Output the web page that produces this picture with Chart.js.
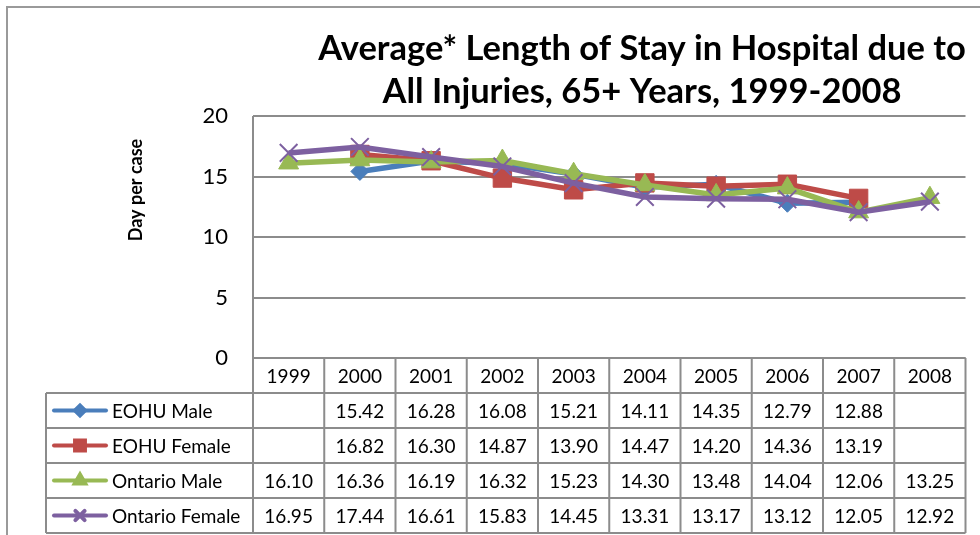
<!DOCTYPE html>
<html>
<head>
<meta charset="utf-8">
<title>Average Length of Stay in Hospital due to All Injuries, 65+ Years</title>
<script src="https://cdn.jsdelivr.net/npm/chart.js@4.4.1/dist/chart.umd.min.js"></script>
<style>
  html, body { margin: 0; padding: 0; background: #fff; }
  #lengthOfStay { display: block; }
</style>
</head>
<body>
<canvas id="lengthOfStay" width="980" height="535"></canvas>
<script>
// Years shown along the bottom of the data table
var years = ['1999', '2000', '2001', '2002', '2003', '2004', '2005', '2006', '2007', '2008'];

// Average days per case (null = no value reported)
var eohuMale = [null, 15.42, 16.28, 16.08, 15.21, 14.11, 14.35, 12.79, 12.88, null];
var eohuFemale = [null, 16.82, 16.30, 14.87, 13.90, 14.47, 14.20, 14.36, 13.19, null];
var ontarioMale = [16.10, 16.36, 16.19, 16.32, 15.23, 14.30, 13.48, 14.04, 12.06, 13.25];
var ontarioFemale = [16.95, 17.44, 16.61, 15.83, 14.45, 13.31, 13.17, 13.12, 12.05, 12.92];

var seriesNames = ['EOHU Male', 'EOHU Female', 'Ontario Male', 'Ontario Female'];
var seriesColors = ['#4A7EBB', '#BE4B48', '#98B954', '#7D60A0'];
var seriesMarkers = ['rectRot', 'rect', 'triangle', 'crossRot'];
var markerSizes = [9, 13, 11.5, 12.5];

var titleLines = ['Average* Length of Stay in Hospital due to', 'All Injuries, 65+ Years, 1999-2008'];
var yTitle = 'Day per case';

var FONT = 'Lato, "Liberation Sans", sans-serif';
var GRID = '#8c8c8c';

var allSeries = [eohuMale, eohuFemale, ontarioMale, ontarioFemale];

var datasets = allSeries.map(function(values, i) {
    return {
        label: seriesNames[i],
        data: values,
        borderColor: seriesColors[i],
        backgroundColor: seriesColors[i],
        borderWidth: 5.5,
        pointStyle: seriesMarkers[i],
        pointRadius: markerSizes[i],
        pointBorderColor: seriesColors[i],
        pointBorderWidth: seriesMarkers[i] === 'crossRot' ? 2 : 1,
        spanGaps: false,
        tension: 0,
        // first series at the bottom, last one on top
        order: allSeries.length - i
    };
});

// Frame, title, axis title and the data table under the plot
var tableDecor = {
    id: 'tableDecor',
    beforeDraw: function(chart) {
        var ctx = chart.ctx;
        ctx.save();
        ctx.fillStyle = '#fff';
        ctx.fillRect(0, 0, chart.width, chart.height);
        ctx.strokeStyle = '#9a9a9a';
        ctx.lineWidth = 2;
        ctx.beginPath();
        ctx.moveTo(7, chart.height + 5);
        ctx.lineTo(7, 7);
        ctx.lineTo(chart.width + 5, 7);
        ctx.stroke();
        ctx.restore();
    },
    afterDraw: function(chart) {
        var ctx = chart.ctx;
        var area = chart.chartArea;
        var x = chart.scales.x;
        var colW = x.getPixelForValue(1) - x.getPixelForValue(0);
        var rowH = 35;
        var top = area.bottom;
        var legendLeft = 46;

        ctx.save();

        // title
        ctx.fillStyle = '#000';
        ctx.font = 'bold 34.5px ' + FONT;
        ctx.textAlign = 'center';
        ctx.textBaseline = 'alphabetic';
        ctx.fillText(titleLines[0], 642, 60);
        ctx.fillText(titleLines[1], 642, 103);

        // y axis title
        ctx.save();
        ctx.translate(142, 190);
        ctx.rotate(-Math.PI / 2);
        ctx.font = 'bold 18px ' + FONT;
        ctx.fillText(yTitle, 0, 0);
        ctx.restore();

        // plot left edge
        ctx.strokeStyle = GRID;
        ctx.lineWidth = 2;
        ctx.beginPath();
        ctx.moveTo(area.left, area.top);
        ctx.lineTo(area.left, top);
        ctx.stroke();

        // table grid
        var right = area.right;
        var bottom = top + rowH * (allSeries.length + 1);
        ctx.beginPath();
        for (var r = 0; r <= allSeries.length + 1; r++) {
            var yy = top + r * rowH;
            ctx.moveTo(r === 0 ? area.left : legendLeft, yy);
            ctx.lineTo(right, yy);
        }
        for (var c = 0; c <= years.length; c++) {
            var xx = area.left + c * colW;
            ctx.moveTo(xx, top);
            ctx.lineTo(xx, bottom);
        }
        ctx.moveTo(legendLeft, top + rowH);
        ctx.lineTo(legendLeft, bottom);
        ctx.stroke();

        // header and values
        ctx.font = '19px ' + FONT;
        ctx.textAlign = 'center';
        ctx.textBaseline = 'middle';
        ctx.fillStyle = '#000';
        years.forEach(function(y, i) {
            ctx.fillText(y, x.getPixelForValue(i), top + rowH / 2 + 1);
        });
        allSeries.forEach(function(values, s) {
            var cy = top + rowH * (s + 1) + rowH / 2 + 1;
            values.forEach(function(v, i) {
                if (v !== null) ctx.fillText(v.toFixed(2), x.getPixelForValue(i), cy);
            });
        });

        // legend keys
        allSeries.forEach(function(values, s) {
            var cy = top + rowH * (s + 1) + rowH / 2;
            ctx.strokeStyle = seriesColors[s];
            ctx.lineWidth = 4;
            ctx.lineCap = 'round';
            ctx.beginPath();
            ctx.moveTo(54, cy);
            ctx.lineTo(106, cy);
            ctx.stroke();
            Chart.helpers.drawPoint(ctx, {
                pointStyle: seriesMarkers[s],
                radius: [5, 7, 6, 6.5][s],
                borderWidth: seriesMarkers[s] === 'crossRot' ? 2 : 1
            }, 80, cy);
            ctx.fillStyle = seriesColors[s];
            ctx.fill();
            ctx.fillStyle = '#000';
            ctx.textAlign = 'left';
            ctx.fillText(seriesNames[s], 112, cy + 1);
        });

        ctx.restore();
    }
};

var ctx = document.getElementById('lengthOfStay').getContext('2d');
var chart = new Chart(ctx, {
    type: 'line',
    data: {
        labels: years,
        datasets: datasets
    },
    plugins: [tableDecor],
    options: {
        responsive: false,
        animation: false,
        layout: {
            padding: { left: 0, top: 116, right: 5, bottom: 177 }
        },
        plugins: {
            legend: { display: false },
            title: { display: false },
            tooltip: { enabled: false }
        },
        scales: {
            x: {
                display: false,
                offset: true
            },
            y: {
                min: 0,
                max: 20,
                afterFit: function(scale) { scale.width = 253; },
                border: { display: false },
                grid: {
                    color: GRID,
                    lineWidth: 2,
                    drawTicks: false
                },
                ticks: {
                    stepSize: 5,
                    padding: 25,
                    color: '#000',
                    font: { family: FONT, size: 22 }
                }
            }
        }
    }
});
</script>
</body>
</html>
